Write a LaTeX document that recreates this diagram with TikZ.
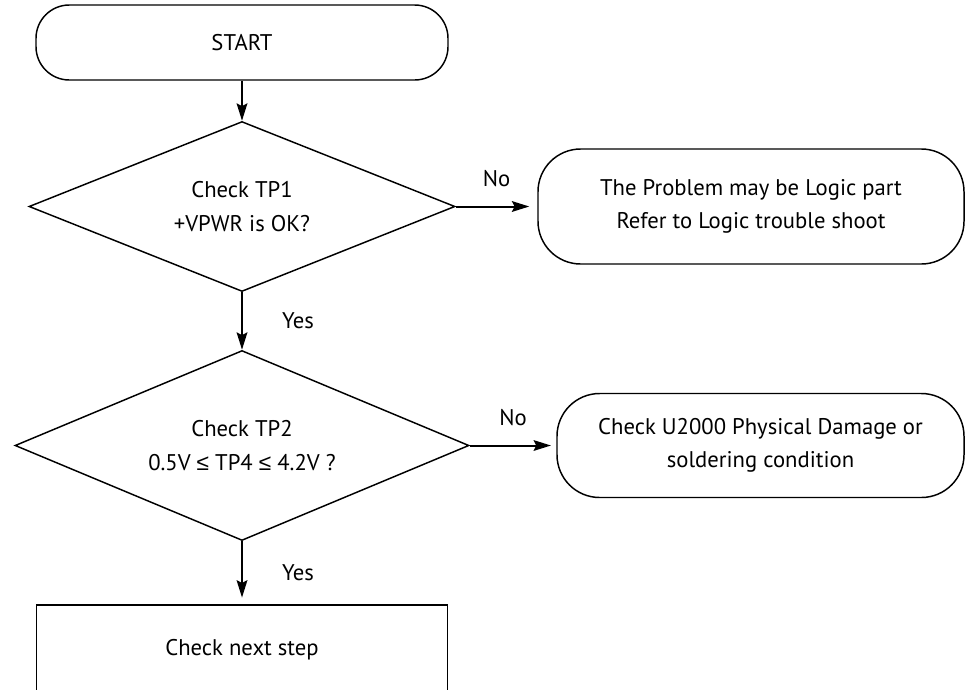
\documentclass[tikz,border=0pt]{standalone}
\usepackage{fontspec}
\setmainfont{PT Sans}
\newfontfamily\symfont{Liberation Sans}
\usetikzlibrary{shapes.geometric,arrows.meta}

\newcommand{\lteq}{{\symfont ≤}}

\begin{document}
\begin{tikzpicture}[x=0.75pt,y=-0.75pt,
        every node/.style={font=\fontsize{17}{25}\selectfont, align=center},
        term/.style={draw, line width=1.1pt, rounded corners=#1, inner sep=0pt},
        term/.default=32pt,
        decide/.style={draw, diamond, line width=1.1pt, inner sep=0pt, aspect=2.5},
        stepbox/.style={draw, rectangle, line width=1.1pt, inner sep=0pt},
        arr/.style={-{Stealth[length=13pt,width=8pt,inset=2pt]}, line width=1.5pt}]
    \useasboundingbox (0,0) rectangle (966,689);
    \clip (0,0) rectangle (966,689);

    \node[term=25pt, minimum width=309pt, minimum height=56.25pt] (start) at (242,42.5) {START};
    \node[decide, minimum width=319.5pt, minimum height=127.5pt] (tp1) at (242,206.5) {Check TP1\\+VPWR is OK?};
    \node[term, minimum width=319.5pt, minimum height=86.25pt] (logic) at (751,206.5) {The Problem may be Logic part\\Refer to Logic trouble shoot};
    \node[decide, minimum width=340.5pt, minimum height=142.5pt] (tp2) at (242,445.5) {Check TP2\\0.5V \lteq{} TP4 \lteq{} 4.2V ?};
    \node[term, minimum width=305.25pt, minimum height=78pt] (damage) at (760.5,445.5) {Check U2000 Physical Damage or\\soldering condition};
    \node[stepbox, minimum width=308.25pt, minimum height=67.5pt] (next) at (242,650) {Check next step};

    \draw[arr] (start) -- (tp1);
    \draw[arr, shorten >=6pt] (tp1) -- node[above=11pt] {No} (logic);
    \draw[arr] (tp1) -- node[right=26pt] {Yes} (tp2);
    \draw[arr, shorten >=4pt] (tp2) -- node[above=11pt] {No} (damage);
    \draw[arr, shorten >=5pt] (tp2) -- node[right=26pt] {Yes} (next);
\end{tikzpicture}
\end{document}
